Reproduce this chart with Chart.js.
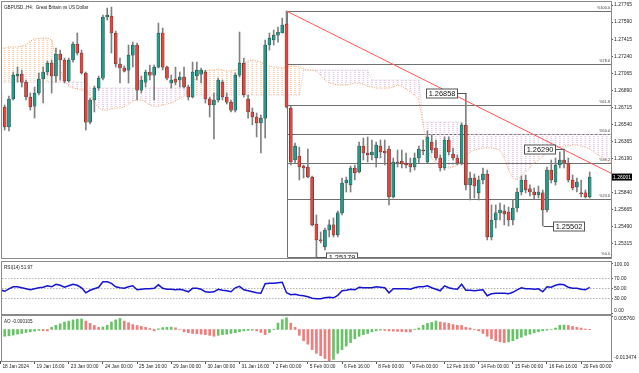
<!DOCTYPE html>
<html>
<head>
<meta charset="utf-8">
<title>GBPUSD H4</title>
<script src="https://cdn.jsdelivr.net/npm/chart.js@4.4.1/dist/chart.umd.min.js"></script>
<style>
    html, body { margin: 0; padding: 0; background: #ffffff; }
    #wrap { position: relative; width: 639px; height: 373px; overflow: hidden; }
    #wrap canvas { position: absolute; left: 0; top: 0; }
</style>
</head>
<body>
<div id="wrap">
    <canvas id="priceChart" width="639" height="373"></canvas>
    <canvas id="rsiChart" width="639" height="373"></canvas>
    <canvas id="aoChart" width="639" height="373"></canvas>
</div>
<script>
// ---- data (bar 0 = 18 Jan 2024 00:00) ----
const timeLabels = ['18 Jan 2024', '19 Jan 16:00', '23 Jan 00:00', '24 Jan 00:00', '25 Jan 16:00', '29 Jan 00:00',
    '30 Jan 00:00', '31 Jan 16:00', '2 Feb 00:00', '5 Feb 00:00', '6 Feb 16:00', '8 Feb 00:00', '9 Feb 00:00',
    '12 Feb 16:00', '14 Feb 00:00', '15 Feb 00:00', '16 Feb 16:00', '20 Feb 00:00'];
const timeLabelBars = [0, 8, 16, 24, 32, 40, 48, 56, 64, 72, 80, 88, 96, 104, 112, 120, 128, 136];

const openPrices = [
    1.26863, 1.26719, 1.26514, 1.26801, 1.27037, 1.27057, 1.26975, 1.26822, 1.26729, 1.26863,
    1.27006, 1.27078, 1.27170, 1.27037, 1.27262, 1.27201, 1.26986, 1.27201, 1.27365, 1.27273,
    1.27068, 1.26565, 1.26791, 1.26914, 1.27016, 1.27642, 1.27652, 1.27478, 1.27160, 1.27119,
    1.27098, 1.27252, 1.27355, 1.26893, 1.26975, 1.27078, 1.27047, 1.27129, 1.27478, 1.27129,
    1.26965, 1.27006, 1.26996, 1.27027, 1.26924, 1.26822, 1.27037, 1.27057, 1.27078, 1.26801,
    1.26740, 1.26791, 1.26975, 1.26822, 1.26770, 1.26688, 1.27047, 1.27170, 1.26801, 1.26668,
    1.26617, 1.26555, 1.26606, 1.27355, 1.27406, 1.27457, 1.27478, 1.27570, 1.26709, 1.26176,
    1.26217, 1.26114, 1.26104, 1.26002, 1.25520, 1.25356, 1.25284, 1.25458, 1.25510, 1.25407,
    1.25633, 1.25940, 1.25920, 1.26094, 1.26053, 1.26319, 1.26248, 1.26227, 1.26196, 1.26319,
    1.26268, 1.26289, 1.25797, 1.26155, 1.26166, 1.26145, 1.26135, 1.26104, 1.26196, 1.26278,
    1.26155, 1.26360, 1.26299, 1.26196, 1.26094, 1.26381, 1.26237, 1.26196, 1.26145, 1.26535,
    1.25920, 1.25991, 1.25838, 1.25971, 1.26032, 1.25387, 1.25561, 1.25633, 1.25653, 1.25643,
    1.25561, 1.25684, 1.25848, 1.25971, 1.25879, 1.25848, 1.25817, 1.25838, 1.25663, 1.26073,
    1.25950, 1.26125, 1.26176, 1.26145, 1.25971, 1.25899, 1.25838, 1.25838, 1.25797
];
const highPrices = [
    1.26893, 1.26740, 1.26832, 1.27078, 1.27129, 1.27098, 1.26996, 1.26863, 1.26924, 1.27068,
    1.27129, 1.27191, 1.27201, 1.27324, 1.27303, 1.27221, 1.27221, 1.27385, 1.27478, 1.27303,
    1.27078, 1.26811, 1.26934, 1.27037, 1.27662, 1.27734, 1.27744, 1.27498, 1.27221, 1.27139,
    1.27355, 1.27385, 1.27375, 1.27037, 1.27098, 1.27150, 1.27150, 1.27580, 1.27529, 1.27139,
    1.27047, 1.27129, 1.27078, 1.27129, 1.26945, 1.27180, 1.27180, 1.27119, 1.27098, 1.26822,
    1.26863, 1.27016, 1.26996, 1.26863, 1.26791, 1.27068, 1.27488, 1.27221, 1.26842, 1.26709,
    1.26658, 1.26637, 1.27406, 1.27478, 1.27508, 1.27539, 1.27631, 1.27703, 1.26729, 1.26350,
    1.26309, 1.26125, 1.26289, 1.26012, 1.25612, 1.25438, 1.25479, 1.25561, 1.25581, 1.25653,
    1.25991, 1.26001, 1.26114, 1.26125, 1.26360, 1.26401, 1.26412, 1.26381, 1.26360, 1.26381,
    1.26381, 1.26319, 1.26196, 1.26278, 1.26278, 1.26248, 1.26196, 1.26248, 1.26319, 1.26381,
    1.26473, 1.26432, 1.26381, 1.26227, 1.26412, 1.26412, 1.26299, 1.26227, 1.26555, 1.26858,
    1.26053, 1.26032, 1.26012, 1.26094, 1.26073, 1.25715, 1.25715, 1.25735, 1.25715, 1.25694,
    1.25766, 1.25889, 1.26012, 1.26022, 1.25920, 1.25889, 1.25909, 1.25868, 1.26104, 1.26176,
    1.26196, 1.26258, 1.26290, 1.26196, 1.26022, 1.25991, 1.25971, 1.25868, 1.26053
];
const lowPrices = [
    1.26688, 1.26483, 1.26473, 1.26791, 1.26975, 1.26924, 1.26791, 1.26688, 1.26606, 1.26842,
    1.26760, 1.27047, 1.26863, 1.26975, 1.26996, 1.26965, 1.26975, 1.27180, 1.27252, 1.27057,
    1.26483, 1.26545, 1.26668, 1.26893, 1.26996, 1.27611, 1.27273, 1.27129, 1.26965, 1.27078,
    1.26965, 1.27129, 1.26791, 1.26863, 1.26924, 1.26996, 1.26791, 1.27119, 1.27098, 1.26996,
    1.26914, 1.26945, 1.26924, 1.26914, 1.26791, 1.26811, 1.26996, 1.26965, 1.26760, 1.26617,
    1.26391, 1.26770, 1.26791, 1.26750, 1.26668, 1.26668, 1.27027, 1.26822, 1.26606, 1.26535,
    1.26412, 1.26248, 1.26401, 1.27303, 1.27355, 1.27385, 1.27478, 1.26709, 1.26125, 1.26145,
    1.25971, 1.25991, 1.25991, 1.25499, 1.25179, 1.25325, 1.25253, 1.25387, 1.25387, 1.25387,
    1.25612, 1.25848, 1.25848, 1.25971, 1.26043, 1.26176, 1.26155, 1.26176, 1.26104, 1.26196,
    1.26125, 1.25715, 1.25786, 1.26104, 1.26094, 1.26094, 1.26053, 1.26073, 1.26145, 1.26227,
    1.26145, 1.26248, 1.26176, 1.26063, 1.26073, 1.26227, 1.26176, 1.26125, 1.26125, 1.25868,
    1.25766, 1.25786, 1.25766, 1.25930, 1.25356, 1.25356, 1.25479, 1.25561, 1.25510, 1.25499,
    1.25510, 1.25643, 1.25817, 1.25838, 1.25807, 1.25776, 1.25786, 1.25502, 1.25643, 1.25940,
    1.25920, 1.26094, 1.26094, 1.25950, 1.25868, 1.25848, 1.25797, 1.25786, 1.25786
];
const closePrices = [
    1.26719, 1.26514, 1.26801, 1.27047, 1.27057, 1.26975, 1.26822, 1.26719, 1.26863, 1.27006,
    1.27078, 1.27170, 1.27037, 1.27262, 1.27201, 1.26986, 1.27201, 1.27365, 1.27273, 1.27068,
    1.26565, 1.26791, 1.26914, 1.27016, 1.27642, 1.27662, 1.27478, 1.27160, 1.27119, 1.27088,
    1.27252, 1.27355, 1.26893, 1.26996, 1.27078, 1.27047, 1.27129, 1.27478, 1.27129, 1.27016,
    1.26996, 1.26975, 1.27027, 1.26924, 1.26822, 1.27078, 1.27098, 1.27098, 1.26801, 1.26740,
    1.26791, 1.26996, 1.26822, 1.26770, 1.26688, 1.27047, 1.27170, 1.26842, 1.26668, 1.26617,
    1.26555, 1.26606, 1.27355, 1.27426, 1.27457, 1.27488, 1.27560, 1.26719, 1.26155, 1.26319,
    1.26104, 1.26094, 1.26002, 1.25510, 1.25356, 1.25346, 1.25458, 1.25510, 1.25407, 1.25633,
    1.25940, 1.25971, 1.26094, 1.26043, 1.26319, 1.26248, 1.26227, 1.26258, 1.26330, 1.26258,
    1.26248, 1.25797, 1.26155, 1.26145, 1.26135, 1.26125, 1.26104, 1.26196, 1.26289, 1.26268,
    1.26412, 1.26278, 1.26196, 1.26094, 1.26381, 1.26258, 1.26196, 1.26145, 1.26535, 1.25920,
    1.25991, 1.25909, 1.25971, 1.26032, 1.25387, 1.25561, 1.25633, 1.25663, 1.25622, 1.25561,
    1.25684, 1.25848, 1.25971, 1.25868, 1.25848, 1.25817, 1.25848, 1.25663, 1.26073, 1.25971,
    1.26125, 1.26176, 1.26145, 1.25971, 1.25889, 1.25950, 1.25827, 1.25797, 1.26001
];

// Ichimoku cloud (senkou span A / B), projected past the last bar
const spanA = [
    1.27324, 1.27324, 1.27334, 1.27334, 1.27334, 1.27345, 1.27355, 1.27396, 1.27416, 1.27426,
    1.27426, 1.27426, 1.27406, 1.27221, 1.27098, 1.26996, 1.26934, 1.26914, 1.26904, 1.26893,
    1.26893, 1.26842, 1.26760, 1.26709, 1.26688, 1.26688, 1.26699, 1.26709, 1.26709, 1.26719,
    1.26750, 1.26781, 1.26791, 1.26791, 1.26770, 1.26740, 1.26729, 1.26729, 1.26740, 1.26750,
    1.26760, 1.26781, 1.26811, 1.26832, 1.26893, 1.26965, 1.27027, 1.27068, 1.27088, 1.27098,
    1.27098, 1.27109, 1.27098, 1.27088, 1.27088, 1.27098, 1.27119, 1.27170, 1.27191, 1.27201,
    1.27191, 1.27180, 1.27150, 1.27139, 1.27129, 1.27129, 1.27119, 1.27129, 1.27139, 1.27139,
    1.27129, 1.27109, 1.27098, 1.27098, 1.27088, 1.27047, 1.26996, 1.26965, 1.26955, 1.26945,
    1.26945, 1.26945, 1.26955, 1.26965, 1.26965, 1.26955, 1.26934, 1.26924, 1.26914, 1.26914,
    1.26914, 1.26914, 1.26924, 1.26945, 1.26934, 1.26904, 1.26873, 1.26842, 1.26791, 1.26535,
    1.26278, 1.26196, 1.26145, 1.26114, 1.26104, 1.26094, 1.26104, 1.26125, 1.26176, 1.26217,
    1.26258, 1.26278, 1.26289, 1.26299, 1.26299, 1.26299, 1.26289, 1.26278, 1.26196, 1.26073,
    1.25991, 1.25971, 1.26012, 1.26053, 1.26094, 1.26145, 1.26176, 1.26217, 1.26258, 1.26278,
    1.26299, 1.26309, 1.26319, 1.26319, 1.26330, 1.26330, 1.26319, 1.26309, 1.26289, 1.26258,
    1.26227, 1.26196, 1.26166, 1.26145
];
const spanB = [
    1.26975, 1.26975, 1.26975, 1.26975, 1.26975, 1.26975, 1.26975, 1.26975, 1.26975, 1.26975,
    1.26975, 1.26975, 1.26975, 1.26975, 1.26975, 1.26975, 1.26975, 1.26975, 1.26975, 1.26975,
    1.26975, 1.26914, 1.26914, 1.26914, 1.26914, 1.26914, 1.26914, 1.26914, 1.26914, 1.26914,
    1.26914, 1.26914, 1.26914, 1.26914, 1.26914, 1.26914, 1.26914, 1.26914, 1.26914, 1.26914,
    1.26914, 1.26914, 1.26914, 1.26914, 1.26842, 1.26842, 1.26842, 1.26842, 1.26842, 1.26842,
    1.26842, 1.26842, 1.26842, 1.26842, 1.26842, 1.26842, 1.26842, 1.26842, 1.26842, 1.26842,
    1.26842, 1.26842, 1.26842, 1.26842, 1.26842, 1.26842, 1.26842, 1.26842, 1.26842, 1.26842,
    1.26842, 1.27098, 1.27098, 1.27098, 1.27098, 1.27098, 1.27098, 1.27098, 1.27098, 1.27098,
    1.27098, 1.27098, 1.27098, 1.27098, 1.27098, 1.27098, 1.27098, 1.26996, 1.26996, 1.26996,
    1.26996, 1.26996, 1.26996, 1.26996, 1.26996, 1.26996, 1.26996, 1.26996, 1.26996, 1.26565,
    1.26565, 1.26565, 1.26565, 1.26565, 1.26565, 1.26565, 1.26565, 1.26565, 1.26565, 1.26441,
    1.26441, 1.26441, 1.26441, 1.26441, 1.26441, 1.26441, 1.26441, 1.26441, 1.26441, 1.26441,
    1.26441, 1.26441, 1.26441, 1.26441, 1.26441, 1.26441, 1.26441, 1.26441, 1.26441, 1.26441,
    1.26441, 1.26441, 1.26441, 1.26441, 1.26441, 1.26441, 1.26441, 1.26441, 1.26441, 1.26441,
    1.26441, 1.26441, 1.26441, 1.26441
];

const rsiValues = [
    47, 44, 49, 53, 53, 51, 49, 47, 49, 51,
    52, 55, 53, 58, 56, 52, 55, 58, 56, 51,
    41, 46, 49, 52, 63, 63, 60, 53, 51, 50,
    53, 55, 47, 48, 49, 49, 50, 57, 50, 48,
    48, 47, 48, 46, 43, 50, 50, 48, 43, 42,
    43, 48, 46, 45, 43, 51, 54, 47, 45, 43,
    41, 40, 59, 60, 60, 61, 62, 41, 37, 38,
    36, 35, 33, 30, 29, 29, 31, 32, 31, 36,
    45, 46, 48, 47, 52, 51, 51, 51, 53, 52,
    51, 41, 49, 49, 49, 49, 48, 51, 53, 53,
    55, 51, 48, 45, 55, 51, 49, 48, 58, 46,
    46, 45, 46, 47, 35, 39, 40, 40, 40, 39,
    42, 47, 51, 49, 49, 48, 49, 43, 53, 52,
    56, 58, 57, 52, 50, 50, 48, 47, 51.97
];
const aoValues = [
    -0.0030, -0.0029, -0.0027, -0.0024, -0.0020, -0.0017, -0.0013, -0.0010, -0.0007, -0.0004,
    -0.0005, -0.0006, 0.0009, 0.0018, 0.0024, 0.0032, 0.0036, 0.0041, 0.0044, 0.0045,
    0.0036, 0.0026, 0.0017, 0.0009, 0.0011, 0.0018, 0.0032, 0.0041, 0.0047, 0.0036,
    0.0029, 0.0021, 0.0017, 0.0013, 0.0009, 0.0004, -0.0006, 0.0003, 0.0008, 0.0009,
    0.0010, 0.0007, 0.0000, -0.0010, -0.0014, -0.0017, -0.0018, -0.0020, -0.0022, -0.0025,
    -0.0029, -0.0025, -0.0022, -0.0020, -0.0017, -0.0014, -0.0010, -0.0006, -0.0004, -0.0003,
    -0.0006, -0.0013, -0.0022, -0.0013, -0.0001, 0.0027, 0.0042, 0.0050, 0.0027, 0.0009,
    -0.0025, -0.0048, -0.0063, -0.0086, -0.0102, -0.0112, -0.0124, -0.013474, -0.0128, -0.0102,
    -0.0086, -0.0071, -0.0056, -0.0040, -0.0029, -0.0022, -0.0017, -0.0010, -0.0006, -0.0003,
    -0.0004, -0.0006, -0.0007, -0.0008, -0.0009, -0.0010, -0.0011, 0.0001, 0.0006, 0.0018,
    0.0026, 0.0030, 0.0036, 0.0032, 0.0029, 0.0026, 0.0021, 0.0018, 0.0017, 0.0009,
    0.0006, 0.0001, -0.0006, -0.0017, -0.0029, -0.0040, -0.0048, -0.0053, -0.0056, -0.0053,
    -0.0048, -0.0040, -0.0033, -0.0025, -0.0020, -0.0014, -0.0010, -0.0006, -0.0003, 0.0000,
    0.0006, 0.0018, 0.0019, 0.0017, 0.0013, 0.0009, 0.0006, 0.0002, -0.000105
];

const priceTicks = [1.27765, 1.27590, 1.27415, 1.27240, 1.27065, 1.26890, 1.26715, 1.26540,
    1.26365, 1.26190, 1.25840, 1.25665, 1.25490, 1.25315];
const rsiTicks = [0, 30, 50, 70, 100];
const rsiLevels = [30, 50, 70];
const aoTicks = [-0.013474, 0.005760];

// fibonacci drawn from the 2 Feb high (bar 67) to the 5 Feb low (bar 74)
const fibBars = [67, 74];
const fibLevels = [0, 23.6, 38.2, 50, 61.8, 78.6, 100];
// trend line from the swing high
const trendBars = [67, 143];
const trendPrices = [1.27703, 1.26040];
// price call-outs
const markBars = [74, 109, 127, 132];
const markPrices = [1.25179, 1.26858, 1.25502, 1.26290];

// ---- drawing ----
const FONT = '"Liberation Sans", Arial, sans-serif';
const X_MIN = 0.368, X_MAX = 142.99;
const BULL = '#1f9d8a', BEAR = '#e8443b';

Chart.defaults.font.family = FONT;
Chart.defaults.color = '#1e1e1e';
Chart.defaults.animation = false;
Chart.defaults.plugins.legend.display = false;
Chart.defaults.plugins.tooltip.enabled = false;

const barIdx = openPrices.map((_, i) => i);
const cloudIdx = spanA.map((_, i) => i);
const isBull = barIdx.map(i => closePrices[i] >= openPrices[i]);
const aoColors = aoValues.map((v, i) => (i === 0 || v > aoValues[i - 1]) ? '#66c466' : '#f07c7c');

function dotPattern(color) {
    const c = document.createElement('canvas');
    c.width = 1;
    c.height = 2;
    const g = c.getContext('2d');
    g.fillStyle = color;
    g.fillRect(0, 0, 1, 1);
    return g.createPattern(c, 'repeat');
}
const orangeDots = dotPattern('#f8cda8');
const thistleDots = dotPattern('#e6c8e6');

function timeAxis(show) {
    return {
        type: 'linear',
        min: X_MIN,
        max: X_MAX,
        offset: false,
        display: show,
        grid: { offset: false, drawOnChartArea: false, tickLength: 3, tickColor: '#555' },
        border: { display: false },
        ticks: {
            autoSkip: false,
            maxRotation: 0,
            align: 'start',
            labelOffset: 2,
            padding: 0,
            font: { size: 4.8 },
            callback: function(value) {
                const k = timeLabelBars.indexOf(value);
                return k >= 0 ? timeLabels[k] : '';
            }
        },
        afterBuildTicks: s => { s.ticks = timeLabelBars.map(v => ({ value: v })); },
        afterFit: s => {
            if (show) s.height = 12;
            s.paddingLeft = 0;
            s.paddingRight = 0;
        }
    };
}

// builtIn = false -> labels are drawn by the clampedLabels plugin (kept inside the panel like MT4 does)
function valueAxis(min, max, ticks, fmt, builtIn) {
    return {
        position: 'right',
        min: min,
        max: max,
        grid: { drawOnChartArea: false, tickLength: 2, tickColor: '#555' },
        border: { display: false },
        ticks: { display: builtIn, autoSkip: false, padding: 1, font: { size: 5 }, callback: fmt },
        afterBuildTicks: s => { s.ticks = ticks.map(v => ({ value: v })); },
        afterFit: s => { s.width = 28; s.paddingTop = 0; s.paddingBottom = 0; }
    };
}

function clampedLabels(fmt) {
    return {
        id: 'clampedLabels',
        afterDraw(chart) {
            const { ctx, chartArea: a, scales: { y } } = chart;
            ctx.save();
            ctx.font = '5px ' + FONT;
            ctx.fillStyle = '#1e1e1e';
            ctx.textBaseline = 'middle';
            y.ticks.forEach(t => {
                const py = Math.min(Math.max(y.getPixelForValue(t.value), a.top + 3), a.bottom - 3);
                ctx.fillText(fmt(t.value), a.right + 3, py);
            });
            ctx.restore();
        }
    };
}

const panelFrame = {
    id: 'panelFrame',
    afterDraw(chart) {
        const { ctx, chartArea: a } = chart;
        ctx.save();
        ctx.strokeStyle = '#8a8a8a';
        ctx.lineWidth = 1;
        ctx.strokeRect(Math.round(a.left) - 0.5, Math.round(a.top) - 0.5,
            Math.round(a.right - a.left) + 1, Math.round(a.bottom - a.top) + 1);
        ctx.restore();
    }
};

function panelCaption(text) {
    return {
        id: 'caption',
        afterDraw(chart) {
            const { ctx, chartArea: a } = chart;
            ctx.save();
            ctx.font = '4.6px ' + FONT;
            ctx.fillStyle = '#222';
            ctx.textBaseline = 'top';
            ctx.fillText(text, a.left + 2, a.top + 3);
            ctx.restore();
        }
    };
}

const priceOverlay = {
    id: 'priceOverlay',
    beforeDatasetsDraw(chart) {
        const { ctx, chartArea: a, scales: { x, y } } = chart;
        const fibHigh = highPrices[fibBars[0]];
        const fibLow = lowPrices[fibBars[1]];
        const fx = Math.round(x.getPixelForValue(fibBars[0])) + 0.5;
        const rows = fibLevels.map(lv => Math.round(y.getPixelForValue(fibLow + (fibHigh - fibLow) * lv / 100)) + 0.5);
        ctx.save();
        ctx.strokeStyle = '#707070';
        ctx.lineWidth = 1;
        ctx.font = '3.8px ' + FONT;
        ctx.fillStyle = '#3a3a3a';
        ctx.textAlign = 'right';
        ctx.textBaseline = 'bottom';
        rows.forEach((py, k) => {
            ctx.beginPath();
            ctx.moveTo(fx, py);
            ctx.lineTo(a.right, py);
            ctx.stroke();
            ctx.fillText('%' + fibLevels[k].toFixed(1), a.right - 1, py - 1.5);
        });
        ctx.beginPath();
        ctx.moveTo(fx, Math.min(...rows));
        ctx.lineTo(fx, Math.max(...rows));
        ctx.stroke();
        ctx.restore();
    },
    afterDatasetsDraw(chart) {
        const { ctx, chartArea: a, scales: { x, y } } = chart;
        ctx.save();
        ctx.beginPath();
        ctx.rect(a.left, a.top, a.right - a.left, a.bottom - a.top + 1);
        ctx.clip();
        ctx.lineWidth = 1;
        markBars.forEach((b, k) => {
            const price = markPrices[k];
            const bx = x.getPixelForValue(b);
            const py = Math.round(y.getPixelForValue(price)) + 0.5;
            const onHigh = highPrices[b] === price;
            const w = 31, h = 9;
            const left = Math.round(onHigh ? bx - 9 - w : bx + 10) + 0.5;
            ctx.strokeStyle = '#555';
            ctx.beginPath();
            ctx.moveTo(Math.round(bx) + 0.5, py);
            ctx.lineTo(onHigh ? left + w : left, py);
            ctx.stroke();
            ctx.fillStyle = '#ffffff';
            ctx.fillRect(left, py - h / 2, w, h);
            ctx.strokeRect(left, py - h / 2, w, h);
            ctx.fillStyle = '#111';
            ctx.font = '7.4px ' + FONT;
            ctx.textAlign = 'center';
            ctx.textBaseline = 'middle';
            ctx.fillText(price.toFixed(5), left + w / 2, py + 0.5);
        });
        ctx.restore();

        // last price tag on the axis
        const last = closePrices[closePrices.length - 1];
        const ly = y.getPixelForValue(last);
        ctx.save();
        ctx.fillStyle = '#000';
        ctx.fillRect(a.right + 1, ly - 3.5, 20, 7);
        ctx.fillStyle = '#fff';
        ctx.font = '5px ' + FONT;
        ctx.textBaseline = 'middle';
        ctx.fillText(last.toFixed(5), a.right + 2, ly + 0.3);
        ctx.restore();
    }
};

const rsiOverlay = {
    id: 'rsiOverlay',
    beforeDatasetsDraw(chart) {
        const { ctx, chartArea: a, scales: { y } } = chart;
        ctx.save();
        ctx.strokeStyle = '#b4b4b4';
        ctx.lineWidth = 1;
        ctx.setLineDash([1.5, 1.5]);
        rsiLevels.forEach(lv => {
            const py = Math.round(y.getPixelForValue(lv)) + 0.5;
            ctx.beginPath();
            ctx.moveTo(a.left, py);
            ctx.lineTo(a.right, py);
            ctx.stroke();
        });
        ctx.restore();
    }
};

const fmtPrice = v => v.toFixed(5);
const fmtRsi = v => v.toFixed(2);
const fmtAo = v => v.toFixed(6);

new Chart(document.getElementById('priceChart'), {
    type: 'bar',
    data: {
        datasets: [
            {
                type: 'line',
                label: 'Trend',
                data: trendBars.map((b, k) => ({ x: b, y: trendPrices[k] })),
                borderColor: '#ff5c5c',
                borderWidth: 1,
                pointRadius: 0,
                order: 0
            },
            {
                label: 'Body',
                data: barIdx.map(i => ({ x: i, y: [openPrices[i], closePrices[i]] })),
                backgroundColor: isBull.map(b => b ? BULL : BEAR),
                borderColor: '#2b2b2b',
                borderWidth: 0.5,
                borderSkipped: false,
                barThickness: 3,
                minBarLength: 1,
                grouped: false,
                order: 1
            },
            {
                label: 'Wick',
                data: barIdx.map(i => ({ x: i, y: [lowPrices[i], highPrices[i]] })),
                backgroundColor: '#808080',
                barThickness: 1,
                grouped: false,
                order: 2
            },
            {
                type: 'line',
                label: 'Senkou A',
                data: cloudIdx.map(i => ({ x: i, y: spanA[i] })),
                borderColor: '#f4a460',
                borderWidth: 1,
                borderDash: [1, 1.5],
                pointRadius: 0,
                order: 3
            },
            {
                type: 'line',
                label: 'Senkou B',
                data: cloudIdx.map(i => ({ x: i, y: spanB[i] })),
                borderColor: '#d8bfd8',
                borderWidth: 1,
                borderDash: [1, 1.5],
                pointRadius: 0,
                order: 4
            },
            {
                label: 'Cloud',
                data: cloudIdx.map(i => ({ x: i, y: [spanA[i], spanB[i]] })),
                backgroundColor: cloudIdx.map(i => spanA[i] >= spanB[i] ? orangeDots : thistleDots),
                barThickness: 1,
                grouped: false,
                order: 5
            }
        ]
    },
    options: {
        responsive: false,
        devicePixelRatio: 1,
        layout: { padding: { top: 2, left: 2, right: 0, bottom: 115 } },
        scales: {
            x: timeAxis(false),
            y: valueAxis(1.25171, 1.27796, priceTicks, fmtPrice, true)
        }
    },
    plugins: [priceOverlay, panelFrame, panelCaption('GBPUSD.,H4:  Great Britain vs US Dollar')]
});

new Chart(document.getElementById('rsiChart'), {
    type: 'line',
    data: {
        datasets: [{
            label: 'RSI(14)',
            data: barIdx.map(i => ({ x: i, y: rsiValues[i] })),
            borderColor: '#1414d2',
            borderWidth: 1.5,
            pointRadius: 0
        }]
    },
    options: {
        responsive: false,
        devicePixelRatio: 1,
        layout: { padding: { top: 262, left: 2, right: 0, bottom: 59 } },
        scales: {
            x: timeAxis(false),
            y: valueAxis(-1.4, 102.6, rsiTicks, fmtRsi, false)
        }
    },
    plugins: [rsiOverlay, panelFrame, clampedLabels(fmtRsi),
        panelCaption('RSI(14) ' + rsiValues[rsiValues.length - 1].toFixed(2))]
});

new Chart(document.getElementById('aoChart'), {
    type: 'bar',
    data: {
        datasets: [{
            label: 'AO',
            data: barIdx.map(i => ({ x: i, y: aoValues[i] })),
            backgroundColor: aoColors,
            barThickness: 2,
            grouped: false
        }]
    },
    options: {
        responsive: false,
        devicePixelRatio: 1,
        layout: { padding: { top: 316, left: 2, right: 0, bottom: 0 } },
        scales: {
            x: timeAxis(true),
            y: valueAxis(aoTicks[0], aoTicks[1], aoTicks, fmtAo, false)
        }
    },
    plugins: [panelFrame, clampedLabels(fmtAo), panelCaption('AO ' + aoValues[aoValues.length - 1].toFixed(6))]
});
</script>
</body>
</html>
